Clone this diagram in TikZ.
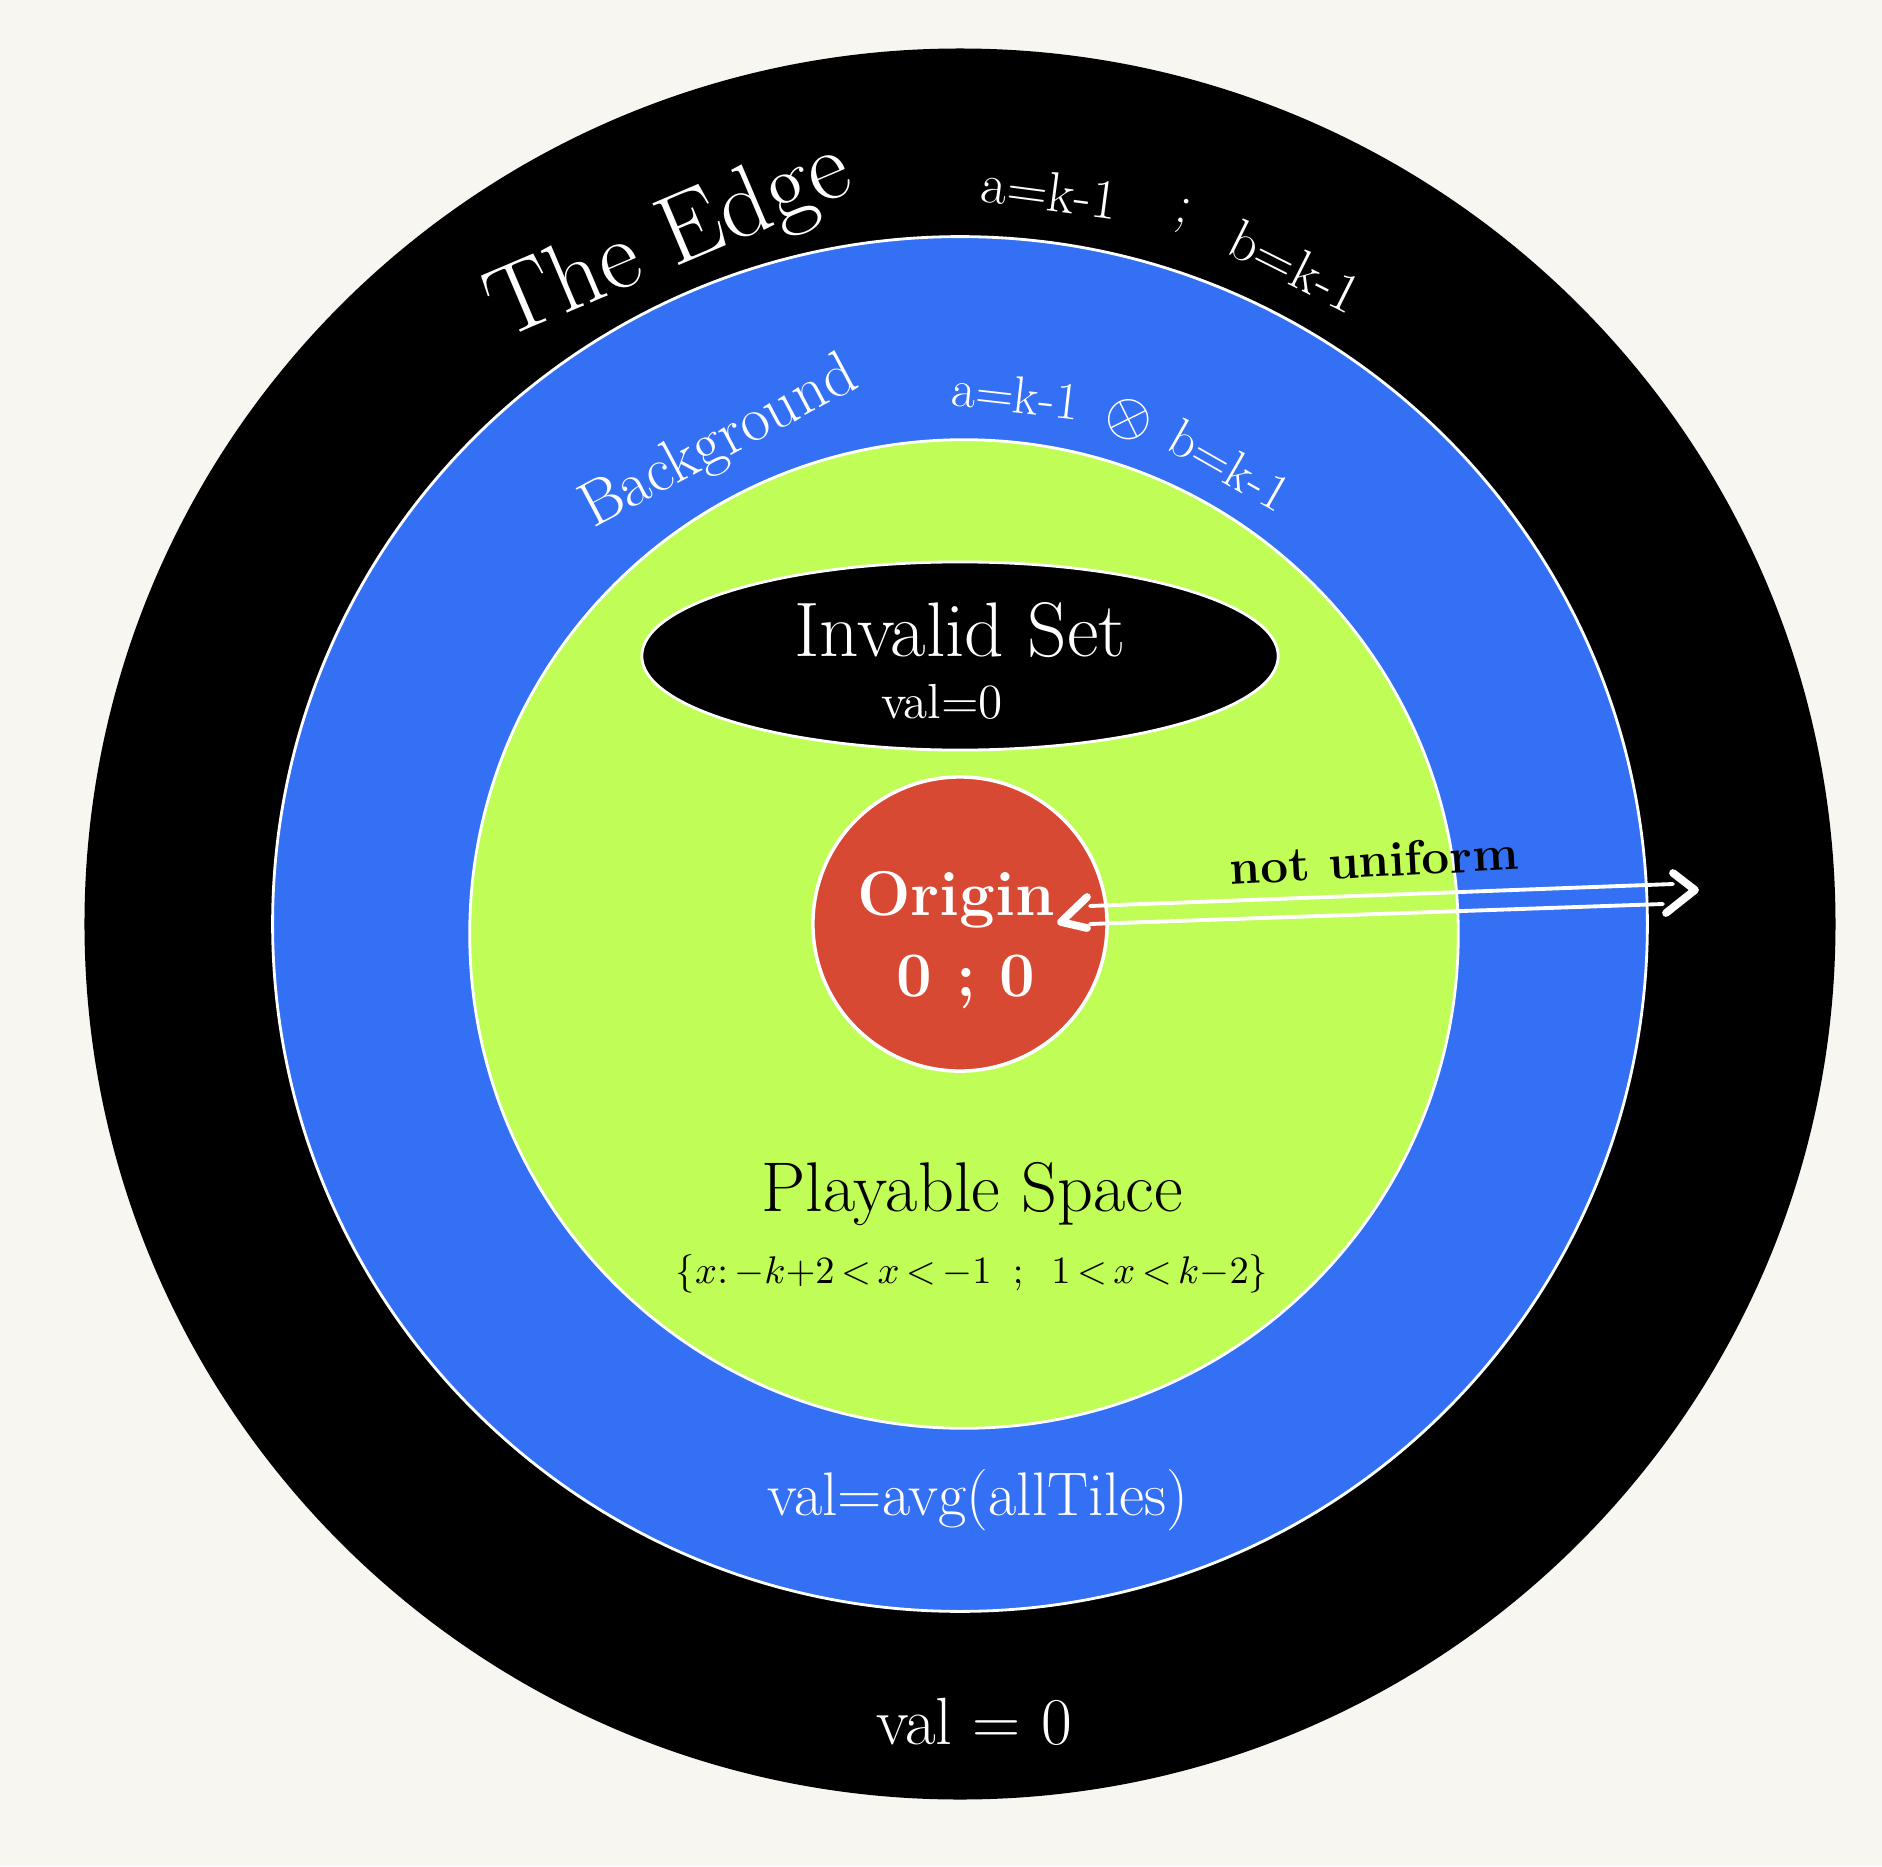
\documentclass[tikz,border=0pt]{standalone}
\usepackage{amsmath}
\usepackage{amssymb}
\usepackage{tikz}
\usetikzlibrary{shapes.geometric, positioning, calc}

\definecolor{paper}{RGB}{247,246,241}
\definecolor{ringblue}{RGB}{51,112,243}
\definecolor{playgreen}{RGB}{192,253,86}
\definecolor{originred}{RGB}{216,73,52}

\begin{document}
\begin{tikzpicture}[x=0.01cm, y=0.01cm, semithick]
	\tikzstyle{ring}=[circle, inner sep=0pt, outer sep=0pt]
	\tikzstyle{wtext}=[text=white, inner sep=0pt]
	\tikzstyle{btext}=[text=black, inner sep=0pt]
	\tikzstyle{arrowline}=[draw=white, line width=1.1pt, line cap=round]
	\tikzstyle{chevron}=[draw=white, line width=2.2pt, line cap=round, line join=round]

	\fill[paper] (-960,-942) rectangle (922,924);
	\useasboundingbox (-960,-942) rectangle (922,924);

	% the rings
	\node[ring, fill=black, minimum size=17.5cm] (edge) at (0,0) {};
	\node[ring, fill=ringblue, draw=white, line width=0.8pt, minimum size=13.74cm] (bg) at (0,0) {};
	\node[ring, fill=playgreen, draw=white, line width=0.8pt, minimum size=9.88cm] (play) at (4,-10) {};
	\node[ellipse, fill=black, draw=white, line width=0.8pt, minimum width=6.36cm, minimum height=1.88cm, inner sep=0pt] (invalid) at (0,268) {};
	\node[ring, fill=originred, draw=white, line width=1pt, minimum size=2.94cm] (origin) at (0,0) {};

	% edge labels
	\node[wtext, rotate=23, font=\fontsize{28}{30}\selectfont] (edgename) at (113:740) {The Edge};
	\node[wtext, rotate=-7.5, font=\fontsize{16}{18}\selectfont] (edgea) at (83:738) {a=k-1};
	\node[wtext, rotate=-17, font=\fontsize{16}{18}\selectfont] (edgesep) at (72.6:742) {;};
	\node[wtext, rotate=-26.6, font=\fontsize{16}{18}\selectfont] (edgeb) at (63:738) {b=k-1};
	\node[wtext, font=\fontsize{19}{21}\selectfont] (edgeval) at (14,-798) {val = 0};

	% background labels
	\node[wtext, rotate=28, font=\fontsize{18}{20}\selectfont] (bgname) at (116.6:537) {Background};
	\node[wtext, rotate=-6.5, font=\fontsize{15}{17}\selectfont] (bga) at (84:532) {a=k-1};
	\node[wtext, rotate=-18.7, font=\fontsize{17}{19}\selectfont] (bgop) at (71.5:532) {$\otimes$};
	\node[wtext, rotate=-29.7, font=\fontsize{15}{17}\selectfont] (bgb) at (59.5:532) {b=k-1};
	\node[wtext, font=\fontsize{17.5}{19}\selectfont] (bgval) at (18,-576) {val=avg(allTiles)};

	% inner labels
	\node[wtext, font=\fontsize{22}{24}\selectfont] (invname) at (0,294) {Invalid Set};
	\node[wtext, font=\fontsize{14}{16}\selectfont] (invval) at (-18,222) {val=0};
	\node[wtext, font=\fontsize{18}{20}\selectfont\bfseries] (origname) at (-4,24) {Origin};
	\node[wtext, font=\fontsize{18}{20}\selectfont\bfseries] (origval) at (6,-58) {0 ; 0};
	\node[btext, font=\fontsize{20}{22}\selectfont] (playname) at (12,-270) {Playable Space};
	\node[btext, font=\fontsize{10.5}{12}\selectfont] (playset) at (12,-350) {$\{x{:}\,{-}k{+}2\,{<}\,x\,{<}\,{-}1\;\;;\;\;1\,{<}\,x\,{<}\,k{-}2\}$};
	\node[btext, rotate=3, font=\fontsize{14}{16}\selectfont\bfseries] (uniform) at (414,64) {not uniform};

	% double arrow
	\coordinate (arrL) at (101,2);
	\coordinate (arrR) at (735,34);
	\draw[arrowline] ([shift={(29,16)}]arrL) -- ([shift={(-22,6)}]arrR);
	\draw[arrowline] ([shift={(29,-2)}]arrL) -- ([shift={(-32,-14)}]arrR);
	\draw[chevron] ([shift={(26,25)}]arrL) -- (arrL) -- ([shift={(26,-6)}]arrL);
	\draw[chevron] ([shift={(-22,17)}]arrR) -- (arrR) -- ([shift={(-29,-23)}]arrR);
\end{tikzpicture}
\end{document}
